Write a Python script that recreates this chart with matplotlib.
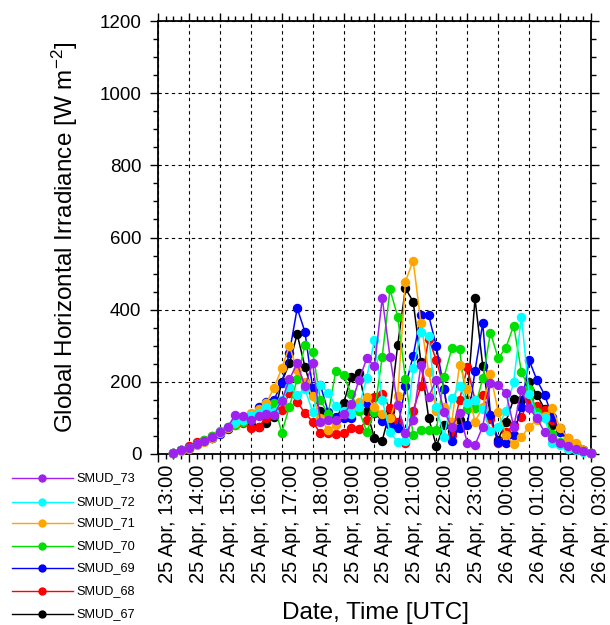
import matplotlib
matplotlib.use("Agg")
import matplotlib.pyplot as plt
import matplotlib.dates as mdates
from matplotlib.lines import Line2D
import pandas as pd
import numpy as np

plt.rcParams['font.family'] = ['Liberation Sans', 'DejaVu Sans']
plt.rcParams['mathtext.default'] = 'regular'

times = pd.date_range('2024-04-25 13:30', '2024-04-26 03:00', freq='15min')

smud_67 = [2, 10, 18, 28, 35, 45, 60, 72, 85, 90,
           80, 76, 85, 103, 200, 251, 332, 242, 168, 120,
           100, 95, 140, 214, 224, 120, 43, 37, 120, 302,
           459, 422, 256, 100, 22, 80, 65, 95, 150, 431,
           244, 105, 40, 90, 152, 150, 200, 164, 125, 79,
           73, 40, 25, 10, 3]
smud_68 = [3, 12, 22, 32, 38, 50, 62, 72, 80, 85,
           71, 76, 99, 122, 122, 170, 145, 113, 90, 57,
           57, 55, 57, 71, 68, 94, 157, 166, 127, 90,
           30, 120, 188, 320, 260, 180, 53, 150, 240, 150,
           164, 96, 30, 60, 80, 103, 150, 133, 122, 95,
           70, 45, 25, 10, 3]
smud_69 = [2, 10, 18, 28, 35, 45, 55, 70, 85, 95,
           105, 131, 145, 150, 196, 281, 404, 339, 182, 191,
           117, 103, 99, 100, 139, 140, 113, 92, 80, 71,
           188, 272, 385, 385, 298, 179, 37, 73, 79, 231,
           362, 108, 34, 31, 53, 131, 260, 205, 164, 102,
           62, 37, 25, 11, 4]
smud_70 = [2, 10, 18, 28, 38, 50, 65, 75, 80, 90,
           100, 115, 140, 140, 59, 131, 207, 302, 284, 150,
           110, 231, 219, 166, 120, 62, 117, 270, 456, 381,
           207, 53, 67, 67, 67, 214, 293, 291, 124, 128,
           210, 336, 265, 295, 356, 228, 179, 117, 103, 55,
           32, 30, 20, 10, 3]
smud_71 = [2, 8, 15, 25, 32, 45, 58, 72, 85, 95,
           113, 125, 140, 184, 237, 299, 233, 200, 160, 100,
           67, 80, 110, 130, 145, 157, 131, 110, 99, 161,
           478, 536, 364, 228, 120, 131, 90, 247, 180, 90,
           130, 221, 117, 53, 27, 46, 76, 95, 105, 127,
           71, 45, 30, 12, 3]
smud_72 = [2, 10, 18, 28, 35, 48, 62, 75, 88, 95,
           108, 115, 130, 117, 150, 187, 164, 180, 117, 191,
           170, 133, 120, 111, 130, 212, 316, 150, 60, 34,
           37, 237, 339, 327, 131, 48, 154, 188, 140, 150,
           125, 65, 76, 120, 200, 381, 166, 105, 100, 30,
           25, 15, 10, 5, 2]
smud_73 = [2, 10, 18, 28, 35, 48, 62, 75, 108, 105,
           94, 105, 110, 108, 148, 207, 251, 188, 251, 90,
           95, 94, 110, 139, 205, 265, 244, 432, 270, 136,
           57, 94, 247, 159, 205, 117, 76, 113, 31, 25,
           76, 198, 190, 170, 76, 177, 127, 100, 60, 45,
           30, 22, 15, 7, 2]

series_names = ['SMUD_67', 'SMUD_68', 'SMUD_69', 'SMUD_70', 'SMUD_71', 'SMUD_72', 'SMUD_73']
series_vals = [smud_67, smud_68, smud_69, smud_70, smud_71, smud_72, smud_73]
colors = ['black', '#FF0000', '#0000FF', '#00E000', '#FFA500', '#00FFFF', '#A020F0']

W, H = 610, 625
fig = plt.figure(figsize=(W / 100, H / 100), dpi=100)
ax_l, ax_r, ax_t, ax_b = 158, 591, 21, 454
ax = fig.add_axes([ax_l / W, 1 - ax_b / H, (ax_r - ax_l) / W, (ax_b - ax_t) / H])

for k, (name, vals, c) in enumerate(zip(series_names, series_vals, colors)):
    ax.plot(times, vals, color=c, lw=1.1, marker='o', ms=5.8, mec=c, mfc=c,
            zorder=3 + k, clip_on=False)

ax.set_xlim(pd.Timestamp('2024-04-25 13:00'), pd.Timestamp('2024-04-26 03:00'))
ax.set_ylim(0, 1200)
ax.xaxis.set_major_locator(mdates.HourLocator(interval=1))
ax.xaxis.set_minor_locator(mdates.MinuteLocator(byminute=[0, 15, 30, 45]))
ax.xaxis.set_major_formatter(mdates.DateFormatter('%d %b, %H:%M'))
ax.set_yticks(np.arange(0, 1201, 200))
ax.set_yticks(np.arange(0, 1201, 50), minor=True)

ax.grid(True, which='major', color='black', lw=0.8, linestyle=(0, (3, 3)))
for s in ax.spines.values():
    s.set_linewidth(1.3)
ax.tick_params(which='both', direction='out', top=True, right=True, width=1.0)
ax.tick_params(which='major', length=6)
ax.tick_params(which='minor', length=3.5)
ax.tick_params(axis='y', labelsize=13.5, pad=6)
ax.tick_params(axis='x', labelsize=14.5, pad=1.5)
for lab in ax.get_xticklabels():
    lab.set_rotation(90)
    lab.set_ha('left')
    lab.set_va('top')

fig.text(65 / W, 1 - 237.5 / H, 'Global Horizontal Irradiance [W m$^{-2}$]',
         rotation=90, ha='center', va='center', fontsize=17.5)
fig.text(376 / W, 1 - 613 / H, 'Date, Time [UTC]', ha='center', va='center', fontsize=17.5)

# legend (manual, NCL style)
leg_y = [614, 591, 568, 546, 523, 502, 478]
for name, c, yy in zip(series_names, colors, leg_y):
    fy = 1 - yy / H
    fig.add_artist(Line2D([12 / W, 73 / W], [fy, fy], color=c, lw=1.0,
                          transform=fig.transFigure))
    fig.add_artist(Line2D([42 / W], [fy], color=c, marker='o', ms=5.0,
                          transform=fig.transFigure))
    fig.text(76 / W, fy, name, ha='left', va='center', fontsize=9.2)

fig.savefig('out.png', dpi=100)
